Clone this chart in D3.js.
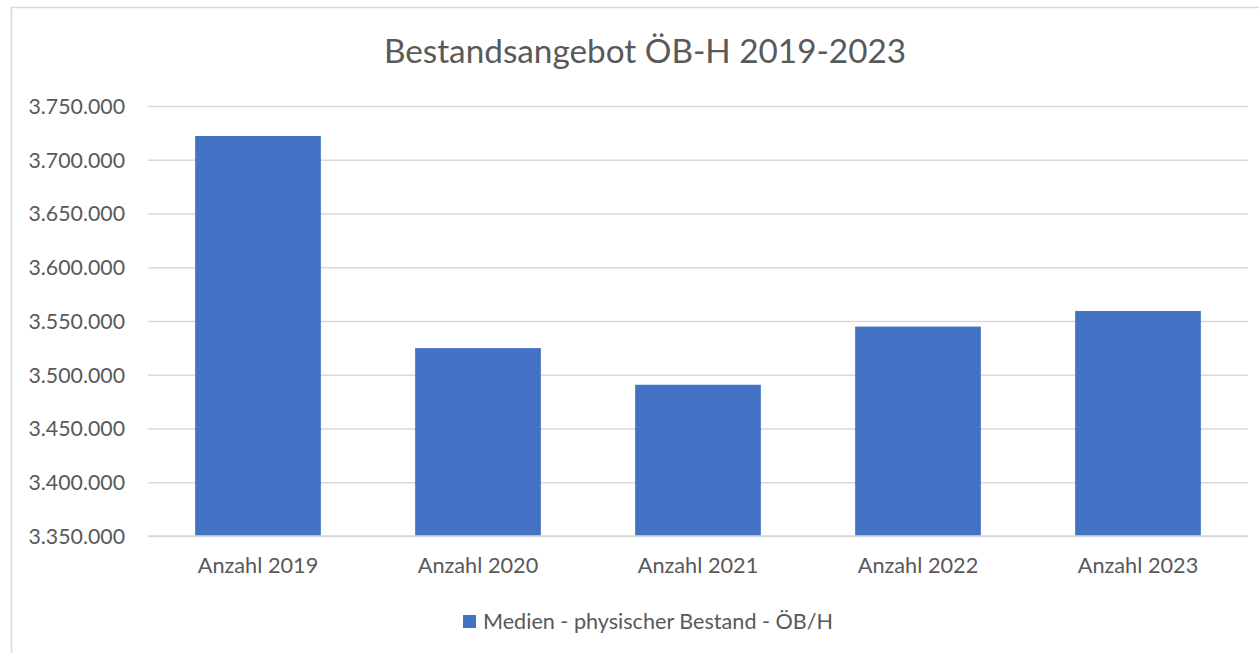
<!DOCTYPE html>
<html>
<head>
<meta charset="utf-8">
<script src="https://d3js.org/d3.v7.min.js"></script>
<style>
  body { margin: 0; background: white; }
  text { font-family: Lato, "Open Sans", sans-serif; fill: #595959; }
</style>
</head>
<body>
<div class="container"></div>
<script>
// data
var categories = ["Anzahl 2019", "Anzahl 2020", "Anzahl 2021", "Anzahl 2022", "Anzahl 2023"];
var values = [3722100, 3524800, 3490700, 3544800, 3559300];
var seriesName = "Medien - physischer Bestand - ÖB/H";
var title = "Bestandsangebot ÖB-H 2019-2023";
var yTicks = [3350000, 3400000, 3450000, 3500000, 3550000, 3600000, 3650000, 3700000, 3750000];

var W = 1259, H = 653;
var plot = {left: 148, right: 1248, top: 106, bottom: 536};
var barColor = "#4472C4";
var gridColor = "#D9D9D9";

// german number format 3.750.000
var de = d3.formatLocale({decimal: ",", thousands: ".", grouping: [3], currency: ["", " €"]});
var fmt = de.format(",d");

//Makes the stage
function makeStage(w, h) {
    var stage = d3.select(".container")
      .append("svg")
      .attr("width", w)
      .attr("height", h)
      .style("display", "block");
    // chart border
    stage.append("rect")
      .attr("x", 11.5).attr("y", 7.5)
      .attr("width", w + 10).attr("height", h + 10)
      .attr("fill", "white")
      .attr("stroke", gridColor)
      .attr("stroke-width", 1.5);
    return stage;
}

var svg = makeStage(W, H);

var x = d3.scaleBand()
  .domain(categories)
  .range([plot.left, plot.right])
  .paddingInner(0.4286)
  .paddingOuter(0.2143);

var y = d3.scaleLinear()
  .domain([yTicks[0], yTicks[yTicks.length - 1]])
  .range([plot.bottom, plot.top]);

// gridlines + y labels
var yAxis = d3.axisLeft(y)
  .tickValues(yTicks)
  .tickFormat(fmt)
  .tickSize(-(plot.right - plot.left))
  .tickPadding(23);

var gy = svg.append("g")
  .attr("transform", "translate(" + plot.left + ",0)")
  .call(yAxis);
gy.select(".domain").remove();
gy.selectAll(".tick line").attr("stroke", gridColor).attr("stroke-width", 1.5);
gy.selectAll(".tick text")
  .attr("fill", "#595959")
  .style("font-size", "21.3px")
  .attr("dy", "0.35em");

// bars
svg.selectAll("rect.bar")
  .data(values)
  .enter()
  .append("rect")
  .attr("class", "bar")
  .attr("x", function(d, i) { return x(categories[i]); })
  .attr("y", function(d) { return y(d); })
  .attr("width", x.bandwidth())
  .attr("height", function(d) { return y(yTicks[0]) - y(d); })
  .attr("fill", barColor);

// x labels
var xAxis = d3.axisBottom(x).tickSize(0).tickPadding(22);
var gx = svg.append("g")
  .attr("transform", "translate(0," + plot.bottom + ")")
  .call(xAxis);
gx.select(".domain").remove();
gx.selectAll(".tick text")
  .attr("fill", "#595959")
  .style("font-size", "21.7px");

// baseline on top of bars
svg.append("line")
  .attr("x1", plot.left).attr("x2", plot.right)
  .attr("y1", y(yTicks[0])).attr("y2", y(yTicks[0]))
  .attr("stroke", gridColor).attr("stroke-width", 1.5);

// title
svg.append("text")
  .text(title)
  .attr("x", 645)
  .attr("y", 63)
  .attr("text-anchor", "middle")
  .style("font-size", "33.3px");

// legend
var legend = svg.append("g").attr("transform", "translate(463,615)");
legend.append("rect")
  .attr("width", 13).attr("height", 13)
  .attr("fill", barColor);
legend.append("text")
  .text(seriesName)
  .attr("x", 20)
  .attr("y", 6.5)
  .attr("dy", "0.35em")
  .style("font-size", "21.6px");
</script>
</body>
</html>
